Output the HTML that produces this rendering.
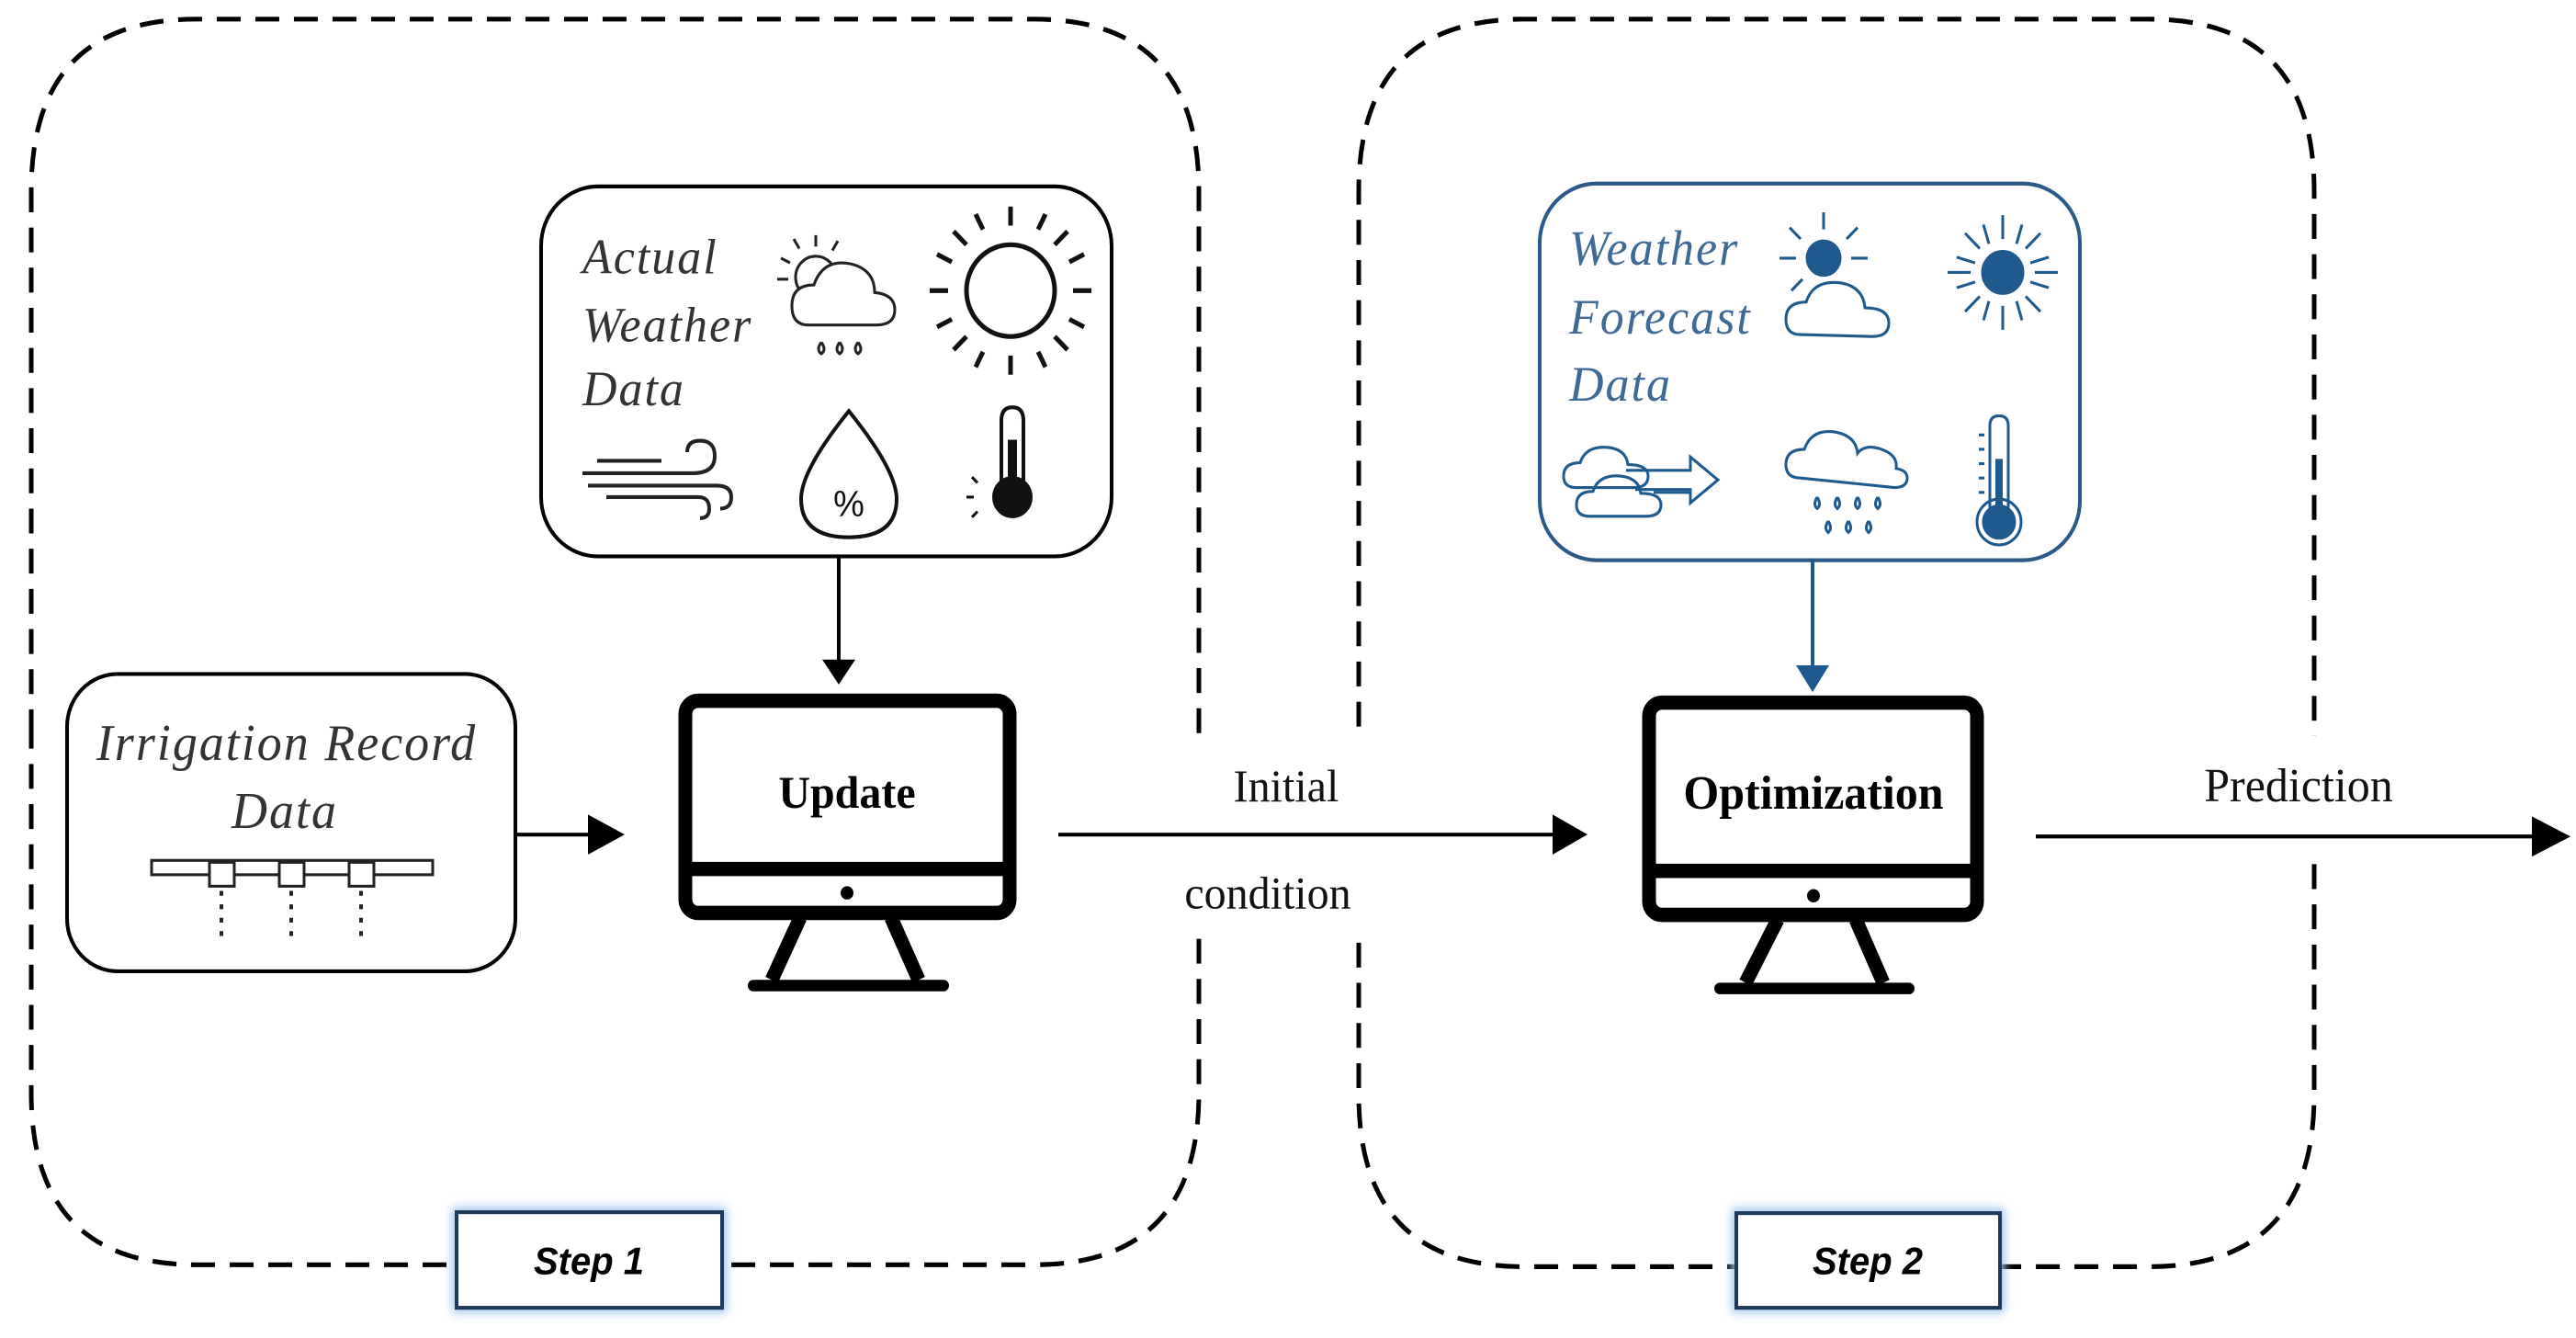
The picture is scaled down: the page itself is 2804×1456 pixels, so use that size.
<!DOCTYPE html>
<html><head><meta charset="utf-8"><style>html,body{margin:0;padding:0;background:#fff;}svg{display:block}</style></head>
<body>
<svg width="2804" height="1456" viewBox="0 0 2804 1456" xmlns="http://www.w3.org/2000/svg">
<defs>
<filter id="glow" x="-20%" y="-40%" width="140%" height="180%"><feGaussianBlur stdDeviation="5"/></filter>
</defs>
<g transform="scale(1,1.0403)">
<g fill="none" stroke="#000" stroke-width="5" stroke-dasharray="26 16">
<path d="M34,768 L34,200 Q34,20 214,20 L1125,20 Q1305,20 1305,200 L1305,768"/>
<path d="M1305,982 L1305,1143 Q1305,1323 1125,1323 L214,1323 Q34,1323 34,1143 L34,982 L34,768"/>
<path d="M1479,760 L1479,200 Q1479,20 1659,20 L2339,20 Q2519,20 2519,200 L2519,770"/>
<path d="M2519,904 L2519,1145 Q2519,1325 2339,1325 L1659,1325 Q1479,1325 1479,1145 L1479,985"/>
</g>
<!-- Step boxes -->
<rect x="492" y="1263" width="299" height="110" fill="#9ec6ee" filter="url(#glow)"/>
<rect x="497" y="1268" width="289" height="100" fill="#fff" stroke="#1e3a5a" stroke-width="4"/>
<text x="641" y="1333" font-family="Liberation Sans, sans-serif" font-weight="bold" font-style="italic" font-size="40" text-anchor="middle">Step 1</text>
<rect x="1885" y="1264" width="297" height="109" fill="#9ec6ee" filter="url(#glow)"/>
<rect x="1890" y="1269" width="287" height="99" fill="#fff" stroke="#1e3a5a" stroke-width="4"/>
<text x="2033" y="1333" font-family="Liberation Sans, sans-serif" font-weight="bold" font-style="italic" font-size="40" text-anchor="middle">Step 2</text>

<!-- Actual weather box -->
<rect x="589" y="195" width="621" height="387" rx="62" fill="#fff" stroke="#000" stroke-width="4"/>
<g font-family="Liberation Serif, serif" font-style="italic" font-size="52" letter-spacing="2" fill="#333">
<text x="634" y="286">Actual</text><text x="634" y="357">Weather</text><text x="634" y="424">Data</text>
</g>
<!-- cloud-sun icon -->
<g stroke="#222" stroke-width="3" fill="none">
<circle cx="888" cy="290" r="22"/>
<path d="M870,260 l-6,-10 M888,258 l0,-12 M906,262 l6,-10 M860,275 l-10,-5 M858,292 l-12,0"/>
<path d="M880,340 q-18,0 -18,-20 q0,-22 24,-22 q10,-28 40,-22 q26,6 26,30 q22,2 22,18 q0,16 -20,16 z" fill="#fff"/>
<path d="M894,358 q-6,8 0,12 q6,-4 0,-12 M914,358 q-6,8 0,12 q6,-4 0,-12 M934,358 q-6,8 0,12 q6,-4 0,-12"/>
</g>
<!-- sun -->
<g stroke="#111" stroke-width="5" fill="none">
<circle cx="1100" cy="304" r="48"/>
<path d="M1100,236 v-20 M1100,372 v20 M1032,304 h-20 M1168,304 h20 M1052,256 l-14,-14 M1148,256 l14,-14 M1052,352 l-14,14 M1148,352 l14,14 M1070,240 l-8,-16 M1130,240 l8,-16 M1070,368 l-8,16 M1130,368 l8,16 M1036,274 l-16,-8 M1164,274 l16,-8 M1036,334 l-16,8 M1164,334 l16,8"/>
</g>
<!-- wind -->
<g stroke="#222" stroke-width="4" fill="none">
<path d="M634,495 h120 q24,0 24,-18 q0,-16 -16,-16 q-14,0 -14,12"/>
<path d="M640,508 h140 q16,0 16,12 q0,12 -12,12"/>
<path d="M650,482 h70"/><path d="M660,520 h100 q12,0 12,12 q0,10 -10,10"/>
</g>
<!-- droplet -->
<path d="M924,430 q-52,62 -52,92 q0,40 52,40 q52,0 52,-40 q0,-30 -52,-92 z" stroke="#111" stroke-width="4" fill="none"/>
<text x="924" y="540" font-family="Liberation Sans, sans-serif" font-size="38" text-anchor="middle" fill="#111">%</text>
<!-- thermometer -->
<g stroke="#111" stroke-width="4">
<path d="M1090,535 V440 q0,-14 12,-14 q12,0 12,14 V535" fill="#fff"/>
<circle cx="1102" cy="520" r="20" fill="#111"/>
<rect x="1097" y="460" width="10" height="60" fill="#111" stroke="none"/>
<path d="M1060,520 h-8 M1064,505 l-6,-6 M1064,535 l-6,6" stroke-width="3"/>
</g>

<!-- arrow weather -> update -->
<line x1="913" y1="582" x2="913" y2="700" stroke="#000" stroke-width="4"/>
<path d="M895,690 L931,690 L913,716 z" fill="#000"/>

<!-- Irrigation box -->
<rect x="73" y="705" width="488" height="311" rx="55" fill="#fff" stroke="#000" stroke-width="4"/>
<g font-family="Liberation Serif, serif" font-style="italic" font-size="54" letter-spacing="2" fill="#333" text-anchor="middle">
<text x="312" y="795">Irrigation Record</text><text x="310" y="866">Data</text>
</g>
<rect x="165" y="900" width="306" height="15" fill="#fff" stroke="#222" stroke-width="3"/>
<g fill="#fff" stroke="#222" stroke-width="3">
<rect x="228" y="902" width="27" height="25"/><rect x="304" y="902" width="27" height="25"/><rect x="380" y="902" width="27" height="25"/>
</g>
<g stroke="#222" stroke-width="4" stroke-dasharray="5 9">
<line x1="241" y1="932" x2="241" y2="985"/><line x1="317" y1="932" x2="317" y2="985"/><line x1="393" y1="932" x2="393" y2="985"/>
</g>
<line x1="561" y1="873" x2="650" y2="873" stroke="#000" stroke-width="4"/>
<path d="M640,852 L680,873 L640,894 z" fill="#000"/>

<!-- Monitor 1 -->
<g stroke="#000" stroke-width="15" fill="none" stroke-linejoin="round">
<rect x="746" y="733" width="353" height="222" rx="14"/>
<line x1="746" y1="909" x2="1099" y2="909"/>
<path d="M871,960 L840,1025 M970,960 L1000,1025"/>
</g>
<line x1="820" y1="1031" x2="1027" y2="1031" stroke="#000" stroke-width="12" stroke-linecap="round"/>
<circle cx="922" cy="934" r="7" fill="#000"/>
<text x="922" y="845" font-family="Liberation Serif, serif" font-weight="bold" font-size="48" text-anchor="middle">Update</text>

<!-- Initial condition arrow -->
<line x1="1152" y1="873" x2="1700" y2="873" stroke="#000" stroke-width="4"/>
<path d="M1690,852 L1728,873 L1690,894 z" fill="#000"/>
<g font-family="Liberation Serif, serif" font-size="48" text-anchor="middle" fill="#111">
<text x="1400" y="838">Initial</text><text x="1380" y="950">condition</text>
</g>

<!-- Forecast box -->
<rect x="1676" y="192" width="588" height="394" rx="62" fill="#fff" stroke="#2b5a88" stroke-width="4"/>
<g font-family="Liberation Serif, serif" font-style="italic" font-size="52" letter-spacing="2" fill="#3f6a95">
<text x="1708" y="277">Weather</text><text x="1708" y="349">Forecast</text><text x="1708" y="419">Data</text>
</g>
<g stroke="#1f5a8e" stroke-width="3" fill="none">
<circle cx="1985" cy="270" r="18" fill="#1f5a8e"/>
<path d="M1985,240 l0,-18 M1960,250 l-12,-12 M2010,250 l12,-12 M1955,270 h-18 M2015,270 h18 M1962,292 l-12,12"/>
<path d="M1960,350 q-16,0 -16,-16 q0,-18 22,-18 q8,-24 38,-20 q24,4 26,26 q26,0 26,16 q0,14 -18,14 z" fill="#fff"/>
<circle cx="2180" cy="285" r="22" fill="#1f5a8e"/>
<path d="M2180,250 v-25 M2180,320 v25 M2145,285 h-25 M2215,285 h25 M2155,260 l-16,-16 M2205,260 l16,-16 M2155,310 l-16,16 M2205,310 l16,16 M2165,255 l-6,-20 M2195,255 l6,-20 M2165,315 l-6,20 M2195,315 l6,20 M2150,275 l-20,-6 M2210,275 l20,-6 M2150,295 l-20,6 M2210,295 l20,6"/>
<path d="M1716,510 q-14,0 -14,-12 q0,-14 18,-14 q6,-18 30,-16 q20,2 22,18 q22,0 22,12 q0,12 -16,12 z"/>
<path d="M1730,540 q-14,0 -14,-12 q0,-14 18,-14 q6,-18 30,-16 q20,2 22,18 q22,0 22,12 q0,12 -16,12 z"/>
<path d="M1770,492 h70 l0,-14 l30,24 l-30,24 l0,-14 h-60"/>
<path d="M1800,515 h40"/>
<path d="M1960,500 q-16,0 -16,-14 q0,-16 20,-16 q8,-22 34,-18 q22,4 24,22 q8,-10 26,-4 q18,6 16,20 q12,2 12,10 q0,10 -14,10 z" fill="#fff"/>
<path d="M1978,520 q-5,8 0,12 q5,-4 0,-12 M2000,520 q-5,8 0,12 q5,-4 0,-12 M2022,520 q-5,8 0,12 q5,-4 0,-12 M2044,520 q-5,8 0,12 q5,-4 0,-12 M1990,545 q-5,8 0,12 q5,-4 0,-12 M2012,545 q-5,8 0,12 q5,-4 0,-12 M2034,545 q-5,8 0,12 q5,-4 0,-12"/>
<path d="M2166,540 V445 q0,-10 10,-10 q10,0 10,10 V540"/>
<circle cx="2176" cy="546" r="17" fill="#1f5a8e"/>
<circle cx="2176" cy="546" r="24"/>
<rect x="2172" y="480" width="8" height="60" fill="#1f5a8e" stroke="none"/>
<path d="M2160,455 h-6 M2160,470 h-6 M2160,485 h-6 M2160,500 h-6 M2160,515 h-6"/>
</g>
<line x1="1973" y1="586" x2="1973" y2="700" stroke="#1f5a8e" stroke-width="4"/>
<path d="M1955,696 L1991,696 L1973,724 z" fill="#1f5a8e"/>

<!-- Monitor 2 -->
<g stroke="#000" stroke-width="15" fill="none" stroke-linejoin="round">
<rect x="1795" y="735" width="357" height="222" rx="14"/>
<line x1="1795" y1="911" x2="2152" y2="911"/>
<path d="M1935,962 L1900,1028 M2020,962 L2050,1028"/>
</g>
<line x1="1872" y1="1034" x2="2078" y2="1034" stroke="#000" stroke-width="12" stroke-linecap="round"/>
<circle cx="1974" cy="937" r="7" fill="#000"/>
<text x="1974" y="846" font-family="Liberation Serif, serif" font-weight="bold" font-size="50" text-anchor="middle">Optimization</text>

<!-- Prediction arrow -->
<line x1="2216" y1="875" x2="2770" y2="875" stroke="#000" stroke-width="4"/>
<path d="M2756,854 L2798,875 L2756,896 z" fill="#000"/>
<text x="2502" y="838" font-family="Liberation Serif, serif" font-size="50" text-anchor="middle" fill="#111">Prediction</text>
</g>
</svg>
</body></html>
